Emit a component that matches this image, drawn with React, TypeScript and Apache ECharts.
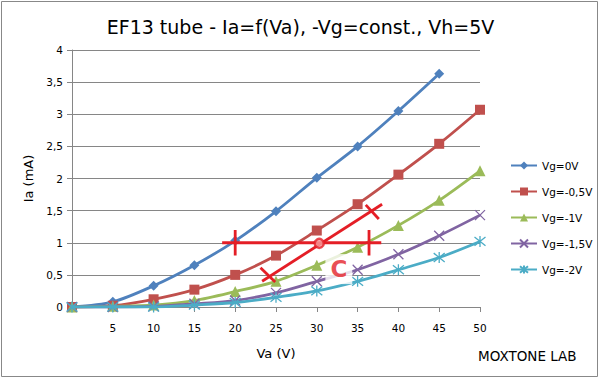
import React, { useEffect, useRef } from "react";
import * as echarts from "echarts";

const vaValues = [0, 5, 10, 15, 20, 25, 30, 35, 40, 45, 50];
const seriesNames = ["Vg=0V", "Vg=-0,5V", "Vg=-1V", "Vg=-1,5V", "Vg=-2V"];
const vg0 = [0, 0.08, 0.33, 0.65, 1.03, 1.49, 2.01, 2.5, 3.05, 3.63];
const vg05 = [0, 0.02, 0.12, 0.27, 0.5, 0.8, 1.19, 1.6, 2.06, 2.54, 3.07];
const vg1 = [0, 0.01, 0.03, 0.1, 0.24, 0.4, 0.65, 0.93, 1.27, 1.66, 2.12];
const vg15 = [0, 0, 0.01, 0.05, 0.1, 0.22, 0.4, 0.58, 0.82, 1.11, 1.43];
const vg2 = [0, 0, 0, 0.03, 0.07, 0.15, 0.25, 0.4, 0.58, 0.77, 1.02];
const yTicks = [0, 0.5, 1, 1.5, 2, 2.5, 3, 3.5, 4];

// red hand-drawn annotation (data coordinates Va, Ia)
const annoSegments: number[][][] = [
  [[18.4, 1.0], [37.9, 1.0]],
  [[20, 0.8], [20, 1.2]],
  [[36.4, 0.8], [36.4, 1.2]],
  [[23.3, 0.4], [38.0, 1.6]],
  [[23.1, 0.61], [24.9, 0.39]],
  [[36.0, 1.59], [37.6, 1.37]],
];
const annoPoint = [30.3, 0.99];
const annoLabelPos = [32.7, 0.59];
const annoLabel = "C";

const colors = ["#4F81BD", "#C0504D", "#9BBB59", "#8064A2", "#4BACC6"];
const symbols = [
  "diamond",
  "rect",
  "triangle",
  "path://M0,0L10,10M10,0L0,10",
  "path://M0,1L10,9M10,1L0,9M5,0L5,10",
];
const symbolSizes = [10, 10, 11, 10, 11];
const RED = "#E41E26";
const FONT = "DejaVu Sans";

export default function App() {
  const ref = useRef<HTMLDivElement>(null);
  useEffect(() => {
    document.body.style.margin = "0";
    if (!ref.current) return;
    const chart = echarts.init(ref.current, undefined, { renderer: "svg" });
    const curves = [vg0, vg05, vg1, vg15, vg2];
    const lineSeries = curves.map((vals, i) => ({
      name: seriesNames[i],
      type: "line",
      smooth: 0.3,
      data: vals.map((v, j) => [vaValues[j], v]),
      symbol: symbols[i],
      symbolSize: symbolSizes[i],
      showAllSymbol: true,
      lineStyle: { color: colors[i], width: 2.8 },
      itemStyle: {
        color: colors[i],
        borderColor: colors[i],
        borderWidth: i >= 3 ? 1.3 : 0,
      },
      z: 2 + i,
    }));
    const annoSeries = annoSegments.map((seg) => ({
      type: "line",
      data: seg,
      symbol: "none",
      lineStyle: { color: RED, width: 2.8 },
      z: 20,
      silent: true,
    }));
    chart.setOption({
      animation: false,
      backgroundColor: "#fff",
      textStyle: { fontFamily: FONT },
      title: {
        text: "EF13 tube - Ia=f(Va), -Vg=const., Vh=5V",
        left: "center",
        top: 12,
        textStyle: { fontSize: 19, fontWeight: "normal", color: "#000", fontFamily: FONT },
      },
      grid: { left: 72, right: 121, top: 50, bottom: 74 },
      legend: {
        data: seriesNames,
        orient: "vertical",
        left: 505,
        top: 155,
        itemWidth: 26,
        itemHeight: 10,
        itemGap: 15,
        textStyle: { fontSize: 10.5, color: "#000", fontFamily: FONT },
      },
      xAxis: {
        type: "value",
        min: 0,
        max: 50,
        interval: 5,
        name: "Va (V)",
        nameLocation: "middle",
        nameGap: 40,
        nameTextStyle: { fontSize: 13, color: "#000", fontFamily: FONT },
        axisLine: { lineStyle: { color: "#868686", width: 1 } },
        axisTick: { show: true, length: 5, lineStyle: { color: "#868686" } },
        axisLabel: {
          color: "#000",
          fontSize: 10.5,
          margin: 15,
          fontFamily: FONT,
          formatter: (v: number) => (v === 0 ? "" : String(v)),
        },
        splitLine: { show: false },
      },
      yAxis: {
        type: "value",
        min: 0,
        max: 4,
        interval: 0.5,
        name: "Ia (mA)",
        nameLocation: "middle",
        nameGap: 36,
        nameTextStyle: { fontSize: 13, color: "#000", fontFamily: FONT },
        axisLine: { show: true, lineStyle: { color: "#868686", width: 1 } },
        axisTick: { show: true, length: 5, lineStyle: { color: "#868686" } },
        axisLabel: {
          color: "#000",
          fontSize: 10.5,
          margin: 9,
          fontFamily: FONT,
          formatter: (v: number) =>
            yTicks.indexOf(v) >= 0 ? String(v).replace(".", ",") : "",
        },
        splitLine: { show: true, lineStyle: { color: "#868686", width: 1 } },
      },
      graphic: [
        {
          type: "rect",
          shape: { x: 1.5, y: 1.5, width: 596, height: 375 },
          style: { fill: "none", stroke: "#888", lineWidth: 1 },
          silent: true,
        },
        {
          type: "text",
          left: 478,
          top: 349,
          style: { text: "MOXTONE LAB", fontSize: 13.5, fill: "#000", fontFamily: FONT },
        },
      ],
      series: [
        ...lineSeries,
        {
          type: "scatter",
          data: [annoLabelPos],
          symbolSize: 1,
          itemStyle: { color: "rgba(0,0,0,0)" },
          label: {
            show: true,
            position: "inside",
            formatter: annoLabel,
            color: RED,
            fontSize: 23,
            fontWeight: "bold",
            fontFamily: FONT,
            backgroundColor: "#fff",
            padding: [4, 5, 3, 5],
          },
          z: 15,
          silent: true,
        },
        ...annoSeries,
        {
          type: "scatter",
          data: [annoPoint],
          symbol: "circle",
          symbolSize: 9,
          itemStyle: { color: "#F6A0A0", borderColor: RED, borderWidth: 2.5 },
          z: 21,
          silent: true,
        },
      ],
    });
    return () => chart.dispose();
  }, []);
  return <div ref={ref} style={{ width: 601, height: 381 }} />;
}
